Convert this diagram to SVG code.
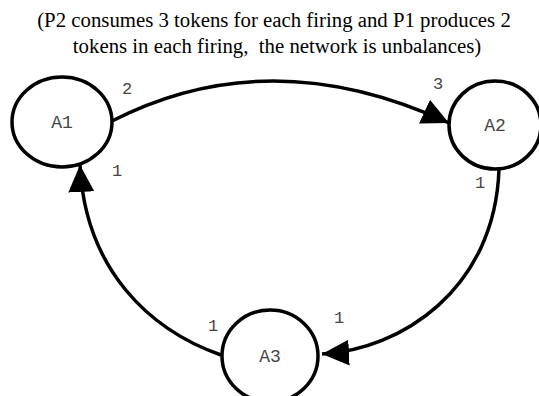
<svg xmlns="http://www.w3.org/2000/svg" width="539" height="396" viewBox="0 0 539 396">
  <style>
    .caption { font-family: "Liberation Serif", "Times New Roman", serif; font-size: 20.8px; fill: #000; text-anchor: middle; white-space: pre; }
    .node ellipse { fill: #fff; stroke: #000; stroke-width: 3.5; }
    .node text { font-family: "Liberation Mono", "Courier New", monospace; font-size: 18px; fill: #444; text-anchor: middle; }
    .edge { fill: none; stroke: #000; stroke-width: 3.5; marker-end: url(#arrow); }
    .rate { font-family: "Liberation Mono", "Courier New", monospace; font-size: 17px; fill: #444; text-anchor: middle; }
  </style>
  <defs>
    <marker id="arrow" markerUnits="userSpaceOnUse" markerWidth="28" markerHeight="28" refX="27" refY="13" orient="auto">
      <path d="M0,0 L27,13 L0,26 z" fill="#000"/>
    </marker>
  </defs>
  <rect width="539" height="396" fill="#fff"/>

  <text class="caption" x="274" y="27">(P2 consumes 3 tokens for each firing and P1 produces 2</text>
  <text class="caption" x="277" y="53" xml:space="preserve">tokens in each firing,  the network is unbalances)</text>

  <g id="connectors">
    <path class="edge" d="M112,121 Q270,40 449,123"/>
    <path class="edge" d="M499,169 C495,290 400,350 322,354"/>
    <path class="edge" d="M221,355 C150,330 85,270 80,165"/>
    <text class="rate" x="127" y="94">2</text>
    <text class="rate" x="438" y="89">3</text>
    <text class="rate" x="117" y="176">1</text>
    <text class="rate" x="480" y="188">1</text>
    <text class="rate" x="213" y="331">1</text>
    <text class="rate" x="339" y="323">1</text>
  </g>

  <g id="A1" class="node">
    <ellipse cx="62" cy="122" rx="50" ry="45"/>
    <text x="62" y="128">A1</text>
  </g>
  <g id="A2" class="node">
    <ellipse cx="495" cy="125" rx="46" ry="44"/>
    <text x="495" y="131">A2</text>
  </g>
  <g id="A3" class="node">
    <ellipse cx="270" cy="356" rx="48" ry="46"/>
    <text x="270" y="362">A3</text>
  </g>
</svg>
